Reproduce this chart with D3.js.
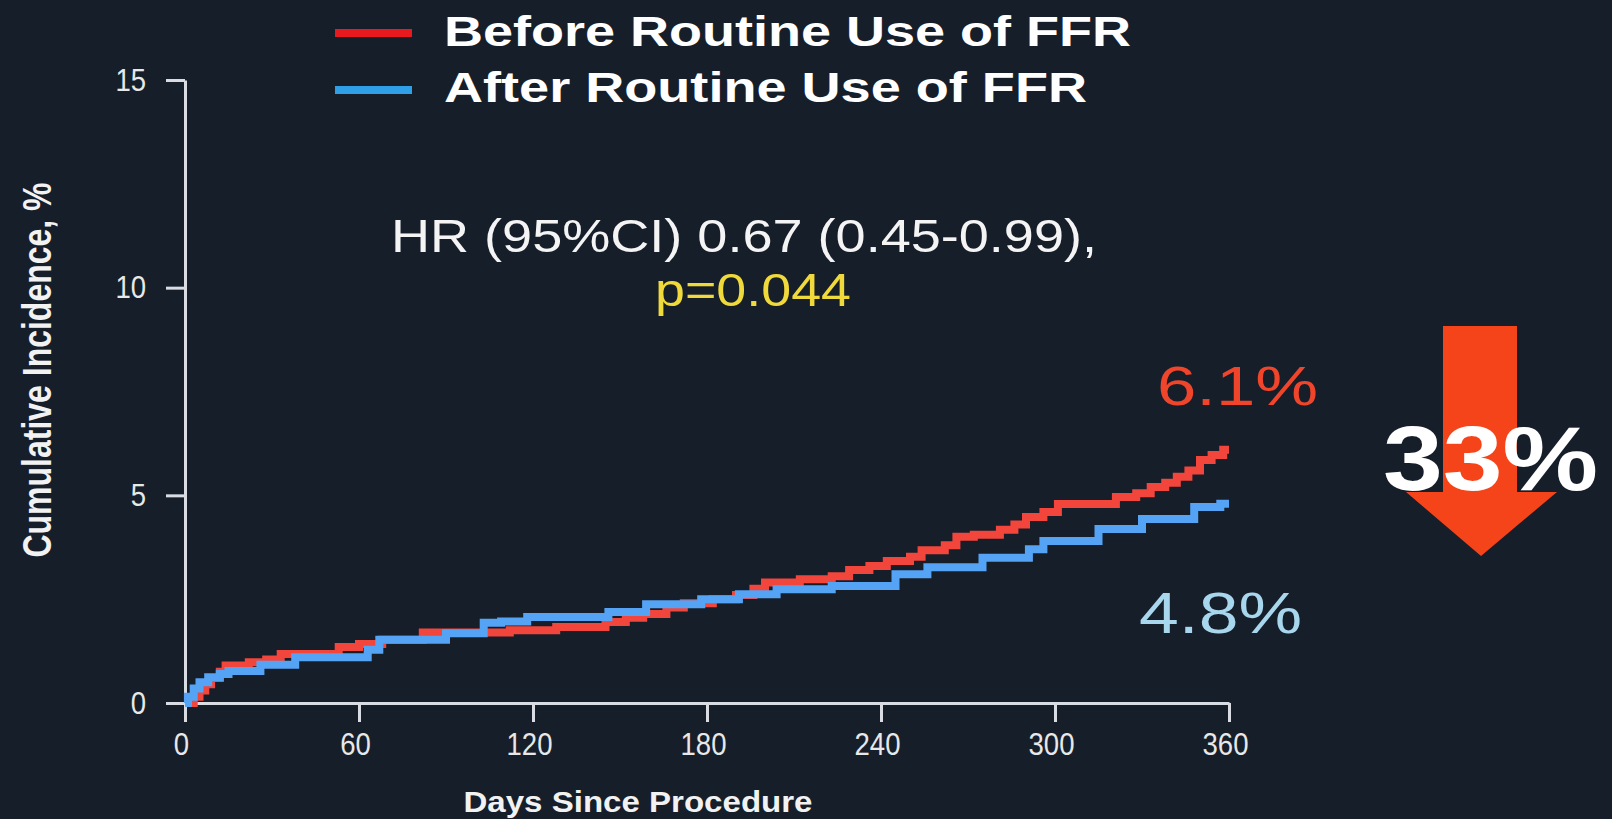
<!DOCTYPE html>
<html>
<head>
<meta charset="utf-8">
<script src="https://cdn.jsdelivr.net/npm/d3@7"></script>
<style>
  html, body { margin: 0; padding: 0; background: #161e2a; }
  svg { display: block; }
  text { font-family: "Liberation Sans", Arial, sans-serif; }
</style>
</head>
<body>
<svg id="chart" width="1612" height="819"></svg>
<script>
// Kaplan-Meier style cumulative incidence, [day, percent] at each step
const beforeSteps = [
  [0,0],[3,0.15],[5,0.3],[7,0.45],[9,0.6],[12,0.75],[14,0.9],[22,0.98],[28,1.05],
  [33,1.18],[53,1.35],[60,1.42],[68,1.52],[82,1.7],[112,1.75],[128,1.83],[145,1.95],
  [152,2.05],[158,2.14],[166,2.3],[172,2.4],[182,2.5],[190,2.6],[196,2.75],[200,2.9],
  [212,2.98],[223,3.05],[229,3.2],[236,3.3],[242,3.42],[250,3.52],[254,3.68],[262,3.8],
  [266,4.0],[272,4.05],[281,4.17],[286,4.3],[290,4.48],[296,4.6],[301,4.79],[321,4.96],
  [328,5.05],[333,5.2],[338,5.3],[342,5.45],[346,5.6],[350,5.85],[354,5.97],[358,6.1],[360,6.1]
];
const afterSteps = [
  [0,0],[1,0.15],[3,0.35],[5,0.5],[8,0.62],[12,0.7],[15,0.77],[26,0.92],[38,1.1],
  [63,1.28],[67,1.52],[90,1.68],[103,1.93],[109,1.96],[118,2.07],[146,2.19],[159,2.38],
  [178,2.5],[191,2.62],[204,2.74],[223,2.82],[245,3.1],[256,3.27],[275,3.5],[291,3.7],
  [296,3.9],[315,4.19],[330,4.43],[348,4.72],[357,4.8],[360,4.8]
];
const seriesNames = ["Before Routine Use of FFR", "After Routine Use of FFR"];
const xTicks = [0, 60, 120, 180, 240, 300, 360];
const yTicks = [0, 5, 10, 15];
const endLabels = ["6.1%", "4.8%"];
const hrText = "HR (95%CI) 0.67 (0.45-0.99),";
const pText = "p=0.044";
const reductionText = "33%";

const svg = d3.select("#chart");
svg.append("rect").attr("width", 1612).attr("height", 819).attr("fill", "#161e2a");

const x = d3.scaleLinear().domain([0, 360]).range([185, 1229]);
const y = d3.scaleLinear().domain([0, 15]).range([703, 80]);

const axisColor = "#d9dde3";

// Axes
const gx = svg.append("g").attr("transform", `translate(0,${y(0)})`)
  .call(d3.axisBottom(x).tickValues(xTicks).tickSize(19).tickSizeOuter(0).tickPadding(10));
const gy = svg.append("g").attr("transform", `translate(${x(0)},0)`)
  .call(d3.axisLeft(y).tickValues(yTicks).tickSize(19).tickSizeOuter(0).tickPadding(20));
[gx, gy].forEach(g => {
  g.select(".domain").attr("stroke", axisColor).attr("stroke-width", 3);
  g.selectAll(".tick line").attr("stroke", axisColor).attr("stroke-width", 3);
  g.selectAll(".tick text").attr("fill", "#e8e8e8").attr("font-size", 32)
    .attr("font-family", "'Liberation Sans', Arial, sans-serif")
    .each(function () {
      // narrow numerals
      const w = this.getComputedTextLength();
      d3.select(this).attr("textLength", w * 0.86).attr("lengthAdjust", "spacingAndGlyphs");
    });
});
gx.selectAll(".tick text").attr("dx", -4);

// Curves
const line = d3.line().x(d => x(d[0])).y(d => y(d[1])).curve(d3.curveStepAfter);
svg.append("path").datum(beforeSteps).attr("d", line)
  .attr("fill", "none").attr("stroke", "#f2453c").attr("stroke-width", 8);
svg.append("path").datum(afterSteps).attr("d", line)
  .attr("fill", "none").attr("stroke", "#55a3f5").attr("stroke-width", 8);

// Axis titles
svg.append("text")
  .attr("transform", "translate(51,370) scale(1.27,1) rotate(-90)")
  .attr("text-anchor", "middle").attr("font-weight", "bold").attr("font-size", 32)
  .attr("fill", "#f2f2f2").text("Cumulative Incidence, %");
svg.append("text")
  .attr("x", 638).attr("y", 812).attr("text-anchor", "middle")
  .attr("font-weight", "bold").attr("font-size", 30).attr("fill", "#f2f2f2")
  .attr("textLength", 349).attr("lengthAdjust", "spacingAndGlyphs")
  .text("Days Since Procedure");

// Legend
const legend = [
  { name: seriesNames[0], color: "#e8191f", y: 33, base: 46, len: 687 },
  { name: seriesNames[1], color: "#2f9fe8", y: 90, base: 102, len: 643 }
];
legend.forEach(l => {
  svg.append("line").attr("x1", 335).attr("x2", 412).attr("y1", l.y).attr("y2", l.y)
    .attr("stroke", l.color).attr("stroke-width", 8);
  svg.append("text").attr("x", 444).attr("y", l.base)
    .attr("font-weight", "bold").attr("font-size", 42).attr("fill", "#ffffff")
    .attr("textLength", l.len).attr("lengthAdjust", "spacingAndGlyphs")
    .text(l.name);
});

// Hazard ratio annotation
svg.append("text").attr("x", 744).attr("y", 252).attr("text-anchor", "middle")
  .attr("font-size", 47).attr("fill", "#f4f4f4")
  .attr("textLength", 706).attr("lengthAdjust", "spacingAndGlyphs").text(hrText);
svg.append("text").attr("x", 753).attr("y", 306).attr("text-anchor", "middle")
  .attr("font-size", 47).attr("fill", "#f0d93a")
  .attr("textLength", 196).attr("lengthAdjust", "spacingAndGlyphs").text(pText);

// End-of-follow-up rates
svg.append("text").attr("x", 1157).attr("y", 405)
  .attr("font-size", 56).attr("fill", "#f0452b")
  .attr("textLength", 161).attr("lengthAdjust", "spacingAndGlyphs").text(endLabels[0]);
svg.append("text").attr("x", 1139).attr("y", 633)
  .attr("font-size", 58).attr("fill", "#a8d6ec")
  .attr("textLength", 163).attr("lengthAdjust", "spacingAndGlyphs").text(endLabels[1]);

// Relative reduction arrow
const arrow = d3.path();
arrow.moveTo(1443, 326); arrow.lineTo(1517, 326); arrow.lineTo(1517, 492);
arrow.lineTo(1557, 492); arrow.lineTo(1481, 556); arrow.lineTo(1406, 492);
arrow.lineTo(1443, 492); arrow.closePath();
svg.append("path").attr("d", arrow.toString()).attr("fill", "#f5441a");
svg.append("text").attr("x", 1383).attr("y", 490)
  .attr("font-weight", "bold").attr("font-size", 91).attr("fill", "#ffffff")
  .attr("textLength", 215).attr("lengthAdjust", "spacingAndGlyphs").text(reductionText);
</script>
</body>
</html>
